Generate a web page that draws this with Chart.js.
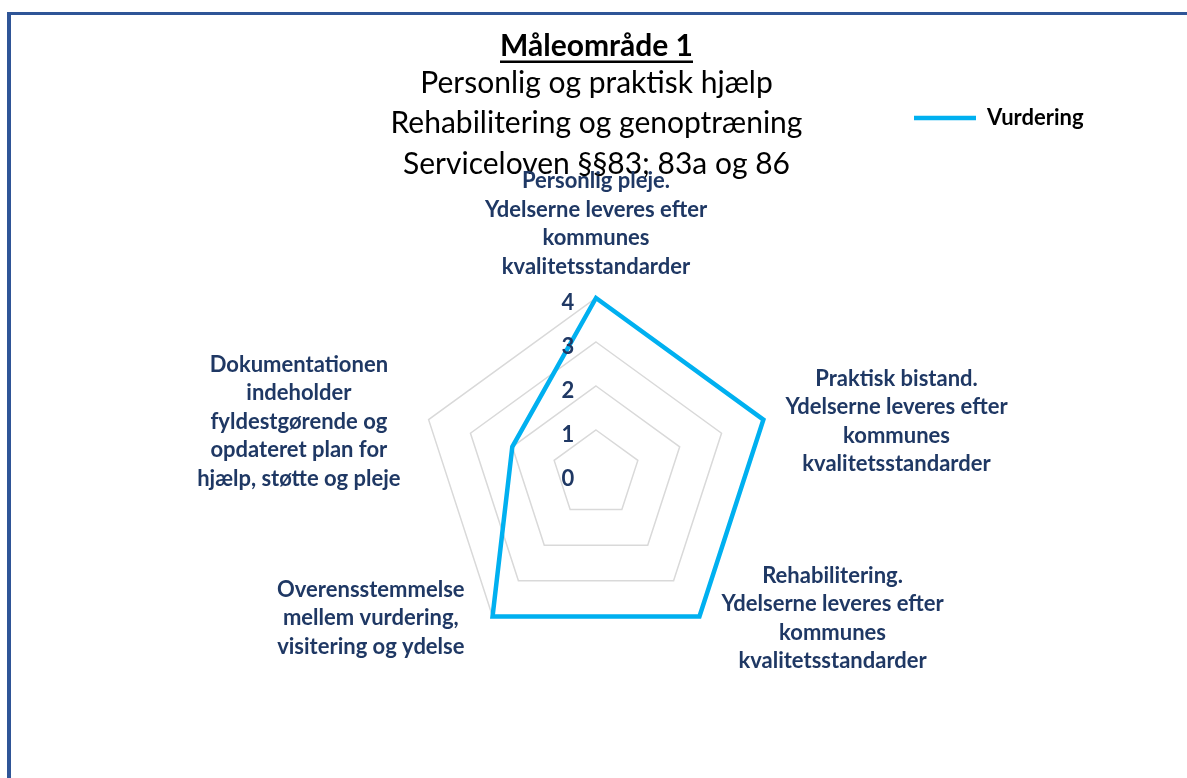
<!DOCTYPE html>
<html><head><meta charset="utf-8">
<script src="https://cdn.jsdelivr.net/npm/chart.js@4"></script>
<style>
html,body{margin:0;padding:0;background:#fff;overflow:hidden}
#wrap{position:relative;width:1187px;height:778px;overflow:hidden}
#frame{position:absolute;left:7px;top:12px;width:1300px;height:900px;border-left:4px solid #2F5597;border-top:3px solid #2F5597}
canvas{position:absolute;left:0;top:0}
</style></head><body>
<div id="wrap"><div id="frame"></div><canvas id="c" width="1187" height="778"></canvas></div>
<script>
const categories = [
  ['Personlig pleje.', 'Ydelserne leveres efter', 'kommunes', 'kvalitetsstandarder'],
  ['Praktisk bistand.', 'Ydelserne leveres efter', 'kommunes', 'kvalitetsstandarder'],
  ['Rehabilitering.', 'Ydelserne leveres efter', 'kommunes', 'kvalitetsstandarder'],
  ['Overensstemmelse', 'mellem vurdering,', 'visitering og ydelse'],
  ['Dokumentationen', 'indeholder', 'fyldestgørende og', 'opdateret plan for', 'hjælp, støtte og pleje']
];
const vurdering = [4, 4, 4, 4, 2];
const tickValues = [0, 1, 2, 3, 4];
const titleText = 'Måleområde 1';
const subtitleLines = ['Personlig og praktisk hjælp', 'Rehabilitering og genoptræning', 'Serviceloven §§83; 83a og 86'];
const seriesName = 'Vurdering';

const FONT = 'Lato, "Open Sans", sans-serif';
const LABEL_COLOR = '#1F3864';
const LABEL_SIZE = 22;
const LABEL_LH = 28.5;

const radarText = {
  id: 'radarText',
  afterLayout(chart) {
    const lg = chart.legend;
    if (lg) {
      const w = lg.width, h = lg.height;
      lg.left = 904; lg.right = 904 + w; lg.top = 97; lg.bottom = 97 + h;
    }
  },
  afterDraw(chart) {
    const ctx = chart.ctx;
    const r = chart.scales.r;
    ctx.save();
    // title underline
    const tb = chart.titleBlock;
    ctx.font = 'bold 30px ' + FONT;
    const tw = ctx.measureText(chart.options.plugins.title.text).width;
    const tcx = (tb.left + tb.right) / 2;
    ctx.fillStyle = '#000';
    ctx.fillRect(tcx - tw / 2, 60.5, tw, 2.5);
    // tick labels
    ctx.font = 'bold ' + LABEL_SIZE + 'px ' + FONT;
    ctx.fillStyle = LABEL_COLOR;
    ctx.textAlign = 'center';
    ctx.textBaseline = 'middle';
    r.ticks.forEach(t => {
      const d = r.getDistanceFromCenterForValue(t.value);
      ctx.fillText(String(t.value), r.xCenter - 28, r.yCenter - d + 4.5);
    });
    // point labels
    const outer = r.getDistanceFromCenterForValue(r.max);
    chart.data.labels.forEach((lines, i) => {
      const p = r.getPointPosition(i, outer);
      const maxW = Math.max(...lines.map(s => ctx.measureText(s).width));
      const c = Math.cos(p.angle), s = Math.sin(p.angle);
      const n = lines.length;
      let cx, cy;
      if (Math.abs(c) < 0.05) {
        cx = p.x;
        cy = s < 0 ? p.y - 17 - n * LABEL_LH / 2 : p.y + 17 + n * LABEL_LH / 2;
      } else if (c > 0) {
        cx = p.x + 22 + maxW / 2; cy = p.y + 2;
      } else {
        cx = p.x - 28 - maxW / 2; cy = p.y + 2;
      }
      lines.forEach((str, k) => ctx.fillText(str, cx, cy + (k - (n - 1) / 2) * LABEL_LH));
    });
    ctx.restore();
  }
};

new Chart(document.getElementById('c'), {
  type: 'radar',
  data: {
    labels: categories,
    datasets: [{
      label: seriesName,
      data: vurdering,
      borderColor: '#00B0F0',
      backgroundColor: '#00B0F0',
      borderWidth: 4.5,
      fill: false,
      pointRadius: 0,
      pointHoverRadius: 0,
      borderCapStyle: 'round',
      borderJoinStyle: 'miter',
      tension: 0
    }]
  },
  options: {
    responsive: false,
    animation: false,
    layout: { padding: { top: 0, left: 6, right: 0, bottom: 128 } },
    scales: {
      r: {
        min: 0, max: 4,
        afterBuildTicks: (scale) => { scale.ticks = tickValues.map(v => ({ value: v })); },
        ticks: { display: false, stepSize: 1 },
        grid: { color: '#D9D9D9', lineWidth: 1.5 },
        angleLines: { display: false },
        pointLabels: { display: false }
      }
    },
    plugins: {
      title: {
        display: true, text: titleText, color: '#000',
        font: { family: FONT, size: 30, weight: 'bold', lineHeight: 1 },
        padding: { top: 31, bottom: 0 }
      },
      subtitle: {
        display: true, text: subtitleLines, color: '#000',
        font: { family: FONT, size: 30, weight: 'normal', lineHeight: 40.75 / 30 },
        padding: { top: 1.5, bottom: 71.25 }
      },
      legend: {
        display: true, position: 'top', align: 'start',
        labels: {
          usePointStyle: true, pointStyle: 'line', pointStyleWidth: 62, boxHeight: LABEL_SIZE,
          color: '#000', font: { family: FONT, size: LABEL_SIZE, weight: 'bold' }, padding: 10
        }
      },
      tooltip: { enabled: false }
    }
  },
  plugins: [radarText]
});
</script>
</body></html>
